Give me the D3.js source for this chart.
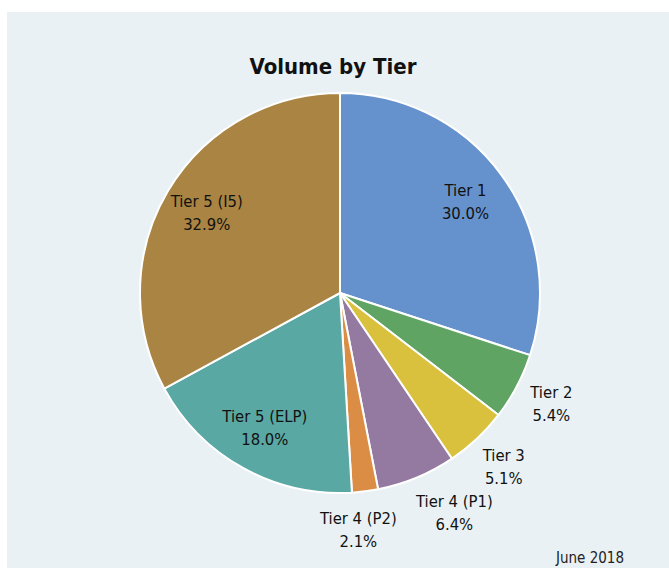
<!DOCTYPE html>
<html>
<head>
<meta charset="utf-8">
<script src="https://cdn.jsdelivr.net/npm/d3@7"></script>
<style>
  body { margin: 0; background: #fff; }
  svg { display: block; }
</style>
</head>
<body>
<div id="chart"></div>
<script>
const tiers = ['Tier 1', 'Tier 2', 'Tier 3', 'Tier 4 (P1)', 'Tier 4 (P2)', 'Tier 5 (ELP)', 'Tier 5 (I5)']
const shares = [30.0, 5.4, 5.1, 6.4, 2.1, 18.0, 32.9]
const colours = ['#6592cd', '#5fa462', '#d9c13d', '#947aa1', '#dc8d45', '#5aa8a3', '#aa8442']

const width = 669
const height = 568
const cx = 340
const cy = 293
const radius = 200
const font = '"DejaVu Sans Condensed", "DejaVu Sans", sans-serif'

const svg = d3.select('#chart').append('svg')
  .attr('width', width)
  .attr('height', height)

// panel background
svg.append('rect')
  .attr('x', 7).attr('y', 12)
  .attr('width', width - 7).attr('height', height - 12)
  .attr('fill', '#e9f1f5')

svg.append('text')
  .attr('x', 333).attr('y', 74)
  .attr('text-anchor', 'middle')
  .attr('font-family', font)
  .attr('font-weight', 'bold')
  .attr('font-size', 22)
  .attr('fill', '#111')
  .text('Volume by Tier')

svg.append('text')
  .attr('x', 624).attr('y', 563)
  .attr('text-anchor', 'end')
  .attr('font-family', font)
  .attr('font-size', 15)
  .attr('fill', '#222')
  .text('June 2018')

const data = tiers.map((t, i) => ({ tier: t, value: shares[i], colour: colours[i] }))
const pie = d3.pie().value(d => d.value).sort(null)
const arcs = pie(data)
const arc = d3.arc().innerRadius(0).outerRadius(radius)

const g = svg.append('g').attr('transform', `translate(${cx},${cy})`)

g.selectAll('path')
  .data(arcs)
  .enter()
  .append('path')
  .attr('d', arc)
  .attr('fill', d => d.data.colour)
  .attr('stroke', '#fff')
  .attr('stroke-width', 2)
  .attr('stroke-linejoin', 'round')

// big slices get their label inside, small ones outside
const inside = d => d.data.value > 10
const lineH = 23
const labelW = 90
const labelH = 46

const labels = arcs.map(d => {
  const a = (d.startAngle + d.endAngle) / 2
  const s = Math.sin(a)
  const c = -Math.cos(a)
  if (inside(d)) {
    return { d, x: s * radius * 0.775, y: c * radius * 0.775 }
  }
  // place outside: nearest side of the text box sits just past the rim
  const w = d.data.tier.length > 6 ? labelW : 46
  const r = radius + 16
  return { d, w, x: s * r + s * w / 2, y: c * r + c * labelH / 2 }
})

// push apart outside labels that overlap side by side
const outside = labels.filter(l => !inside(l.d))
for (let k = 0; k < 20; k++) {
  for (let i = 0; i < outside.length - 1; i++) {
    const a = outside[i], b = outside[i + 1]
    if (Math.abs(a.y - b.y) < labelH) {
      const need = (a.w + b.w) / 2 + 6
      const gap = a.x - b.x
      if (gap < need) {
        const shift = (need - gap) / 2
        a.x += shift
        b.x -= shift
      }
    }
  }
}

const lab = g.selectAll('text.lab')
  .data(labels)
  .enter()
  .append('text')
  .attr('class', 'lab')
  .attr('text-anchor', 'middle')
  .attr('font-family', font)
  .attr('font-size', 16.5)
  .attr('fill', '#111')
  .attr('transform', l => `translate(${l.x},${l.y})`)

lab.append('tspan')
  .attr('x', 0)
  .attr('y', -lineH / 2 + 5)
  .text(l => l.d.data.tier)

lab.append('tspan')
  .attr('x', 0)
  .attr('y', lineH / 2 + 5)
  .text(l => l.d.data.value.toFixed(1) + '%')
</script>
</body>
</html>
